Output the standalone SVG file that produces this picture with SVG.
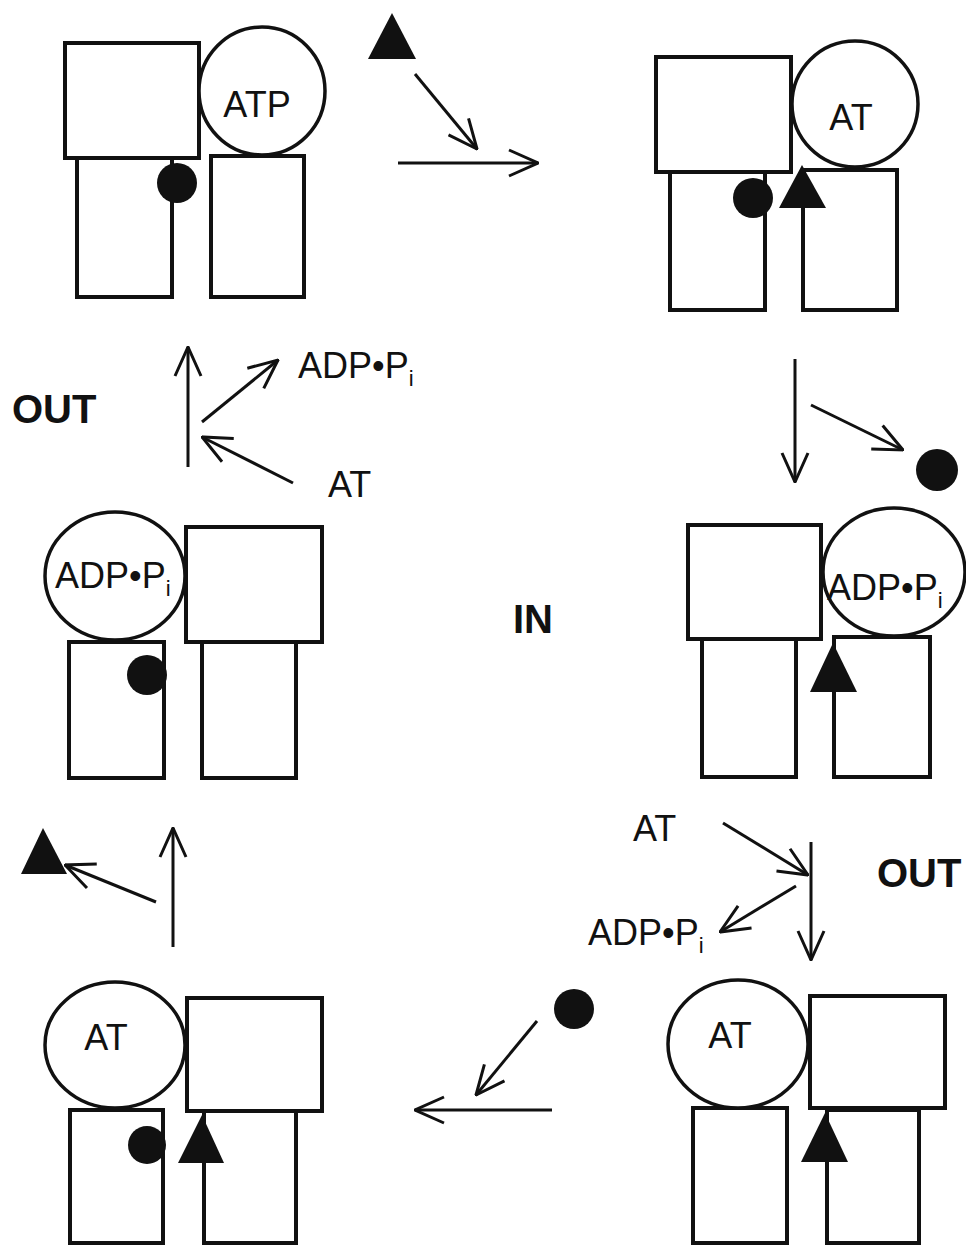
<svg xmlns="http://www.w3.org/2000/svg" width="966" height="1247" viewBox="0 0 966 1247">
<defs>
<style>
.box{fill:#fff;stroke:#111;stroke-width:4}
.ring{fill:#fff;stroke:#111;stroke-width:3.5}
.ink{fill:#111}
.arr{stroke:#111;stroke-width:3;fill:none;marker-end:url(#head)}
.lbl{font-family:"Liberation Sans",Arial,sans-serif;font-size:36px;fill:#111}
.mid{text-anchor:middle}
.big{font-family:"Liberation Sans",Arial,sans-serif;font-size:40px;font-weight:bold;fill:#111}
.sub{font-size:22px}
</style>
<marker id="head" viewBox="0 0 32 30" refX="31" refY="15" markerWidth="32" markerHeight="30" markerUnits="userSpaceOnUse" orient="auto">
<path d="M2,2 L31,15 L2,28" fill="none" stroke="#111" stroke-width="3"/>
</marker>
</defs>
<rect width="966" height="1247" fill="#fff"/>

<g id="state1">
<rect class="box" x="65" y="43" width="134" height="115"/>
<rect class="box" x="77" y="158" width="95" height="139"/>
<rect class="box" x="211" y="156" width="93" height="141"/>
<ellipse class="ring" cx="262" cy="91" rx="63" ry="64"/>
<text class="lbl mid" x="257" y="117">ATP</text>
<circle class="ink" cx="177" cy="183" r="20"/>
</g>
<g id="triangle-in"><polygon class="ink" points="392,13 416,59 368,59"/></g>

<g id="state2">
<rect class="box" x="656" y="57" width="135" height="115"/>
<rect class="box" x="670" y="172" width="95" height="138"/>
<rect class="box" x="803" y="170" width="94" height="140"/>
<circle class="ring" cx="855" cy="104" r="63"/>
<text class="lbl mid" x="851" y="130">AT</text>
<circle class="ink" cx="753" cy="198" r="20"/>
<polygon class="ink" points="802,165 826,208 779,208"/>
</g>

<g id="dot-out"><circle class="ink" cx="937" cy="470" r="21"/></g>

<g id="state3">
<rect class="box" x="688" y="525" width="133" height="114"/>
<rect class="box" x="702" y="639" width="94" height="138"/>
<rect class="box" x="834" y="637" width="96" height="140"/>
<ellipse class="ring" cx="894" cy="572" rx="71" ry="64"/>
<text class="lbl" x="827" y="600">ADP•P<tspan class="sub" dy="8">i</tspan></text>
<polygon class="ink" points="833,643 857,692 810,692"/>
</g>

<g id="state6">
<rect class="box" x="186" y="527" width="136" height="115"/>
<rect class="box" x="69" y="642" width="95" height="136"/>
<rect class="box" x="202" y="642" width="94" height="136"/>
<ellipse class="ring" cx="115" cy="576" rx="70" ry="64"/>
<text class="lbl" x="55" y="588">ADP•P<tspan class="sub" dy="8">i</tspan></text>
<circle class="ink" cx="147" cy="675" r="20"/>
</g>

<g id="triangle-out"><polygon class="ink" points="43,828 67,874 21,874"/></g>

<g id="state5">
<rect class="box" x="187" y="998" width="135" height="113"/>
<rect class="box" x="70" y="1110" width="93" height="133"/>
<rect class="box" x="204" y="1111" width="92" height="132"/>
<ellipse class="ring" cx="115" cy="1045" rx="70" ry="63"/>
<text class="lbl mid" x="106" y="1050">AT</text>
<circle class="ink" cx="147" cy="1145" r="19"/>
<polygon class="ink" points="202,1115 224,1163 178,1163"/>
</g>

<g id="dot-in"><circle class="ink" cx="574" cy="1009" r="20"/></g>

<g id="state4">
<rect class="box" x="810" y="996" width="135" height="112"/>
<rect class="box" x="693" y="1108" width="94" height="135"/>
<rect class="box" x="827" y="1110" width="92" height="133"/>
<ellipse class="ring" cx="738" cy="1044" rx="70" ry="64"/>
<text class="lbl mid" x="730" y="1048">AT</text>
<polygon class="ink" points="825,1113 848,1162 801,1162"/>
</g>

<g id="connectors">
<line class="arr" x1="415" y1="74" x2="477" y2="149"/>
<line class="arr" x1="398" y1="163" x2="538" y2="163"/>
<line class="arr" x1="795" y1="359" x2="795" y2="482"/>
<line class="arr" x1="811" y1="405" x2="903" y2="450"/>
<line class="arr" x1="188" y1="467" x2="188" y2="347"/>
<line class="arr" x1="202" y1="422" x2="278" y2="360"/>
<line class="arr" x1="293" y1="483" x2="202" y2="437"/>
<line class="arr" x1="156" y1="902" x2="65" y2="865"/>
<line class="arr" x1="173" y1="947" x2="173" y2="828"/>
<line class="arr" x1="723" y1="823" x2="808" y2="875"/>
<line class="arr" x1="811" y1="842" x2="811" y2="960"/>
<line class="arr" x1="796" y1="886" x2="720" y2="932"/>
<line class="arr" x1="537" y1="1021" x2="476" y2="1095"/>
<line class="arr" x1="552" y1="1110" x2="415" y2="1110"/>
</g>

<g id="labels">
<text class="big" x="12" y="423">OUT</text>
<text class="big" x="877" y="887">OUT</text>
<text class="big" x="513" y="633">IN</text>
<text class="lbl" x="298" y="378">ADP•P<tspan class="sub" dy="8">i</tspan></text>
<text class="lbl" x="328" y="497">AT</text>
<text class="lbl" x="633" y="841">AT</text>
<text class="lbl" x="588" y="945">ADP•P<tspan class="sub" dy="8">i</tspan></text>
</g>
</svg>
